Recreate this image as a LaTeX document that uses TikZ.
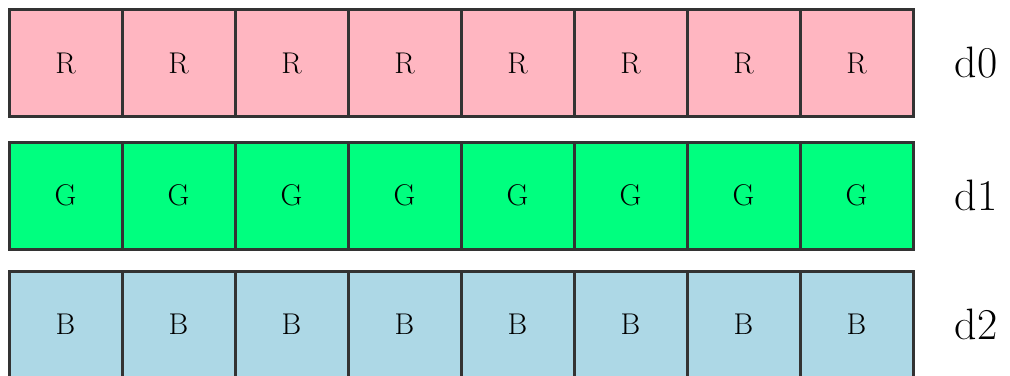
\documentclass[tikz,border=0pt]{standalone}
\usetikzlibrary{positioning}

\definecolor{pinkcell}{HTML}{FFB6C1}
\definecolor{greencell}{HTML}{00FF7F}
\definecolor{bluecell}{HTML}{ADD8E6}

\begin{document}
\begin{tikzpicture}[
    x=0.5pt,
    y=-0.5pt,
    cell/.style={draw=black!80, line width=1.5pt, minimum width=56.5pt,
        minimum height=53.5pt, inner sep=0pt, outer sep=0pt, font=\fontsize{15}{15}\selectfont},
    rowlabel/.style={font=\fontsize{22}{22}\selectfont}
]

\useasboundingbox (0,0) rectangle (1010,375);

% Cell width and row centres
\def\cw{113}
\def\yA{63}
\def\yB{195.5}
\def\yC{324.5}

% =========================
% Channel d0
% =========================
\foreach \i in {1,...,8}
    \node[cell, fill=pinkcell] (r\i) at ({9+\cw*(\i-0.5)},\yA) {R};
\node[rowlabel] (d0) at (976,\yA) {d0};

% =========================
% Channel d1
% =========================
\foreach \i in {1,...,8}
    \node[cell, fill=greencell] (g\i) at ({9+\cw*(\i-0.5)},\yB) {G};
\node[rowlabel] (d1) at (976,\yB) {d1};

% =========================
% Channel d2
% =========================
\foreach \i in {1,...,8}
    \node[cell, fill=bluecell] (b\i) at ({9+\cw*(\i-0.5)},\yC) {B};
\node[rowlabel] (d2) at (976,\yC) {d2};

\end{tikzpicture}
\end{document}
